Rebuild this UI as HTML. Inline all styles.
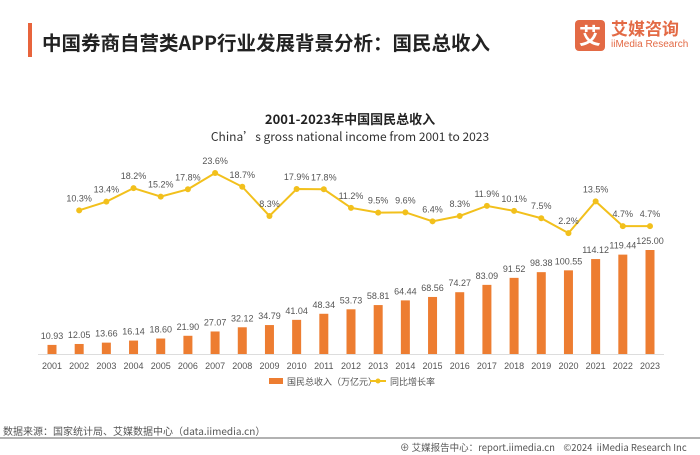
<!DOCTYPE html>
<html><head><meta charset="utf-8"><style>
body{margin:0;width:700px;height:455px;background:#fff;font-family:"Liberation Sans","Noto Sans CJK SC",sans-serif;overflow:hidden;position:relative}
.abs{position:absolute}
</style></head><body>
<div class="abs" style="left:28px;top:23px;width:4px;height:34px;background:#e8643c"></div>
<div class="abs" style="left:42px;top:27px;font-size:19.5px;color:#222;font-weight:bold;font-family:'Noto Sans CJK SC',sans-serif">中国券商自营类APP行业发展背景分析：国民总收入</div>
<div class="abs" style="left:575px;top:20px;width:30px;height:31px;background:#e36a45;border-radius:4px;color:#fff;font-size:22px;text-align:center;line-height:31px;font-family:'Noto Sans CJK SC',sans-serif;font-weight:bold">艾</div>
<div class="abs" style="left:611px;top:18px;font-size:17px;color:#e36a45;font-weight:bold;font-family:'Noto Sans CJK SC',sans-serif;line-height:20px">艾媒咨询</div>
<div class="abs" style="left:611px;top:39px;font-size:10px;color:#e36a45;line-height:12px">iiMedia Research</div>
<svg class="abs" style="left:0;top:0" width="700" height="455">
<text x="350" y="124" text-anchor="middle" font-size="13" font-weight="bold" fill="#222" font-family="Noto Sans CJK SC,sans-serif">2001-2023年中国国民总收入</text>
<text x="350" y="141" text-anchor="middle" font-size="12" fill="#333" font-family="Noto Sans CJK SC,sans-serif">China’s gross national income from 2001 to 2023</text>
<line x1="38" y1="354.5" x2="664" y2="354.5" stroke="#ddd"/>
<g id="bars"></g><g id="line"></g><g id="xt"></g>
<rect x="269" y="378" width="14" height="6" fill="#ed7d31"/>
<text x="287" y="385" font-size="9" fill="#555" font-family="Noto Sans CJK SC,sans-serif">国民总收入（万亿元）</text>
<line x1="370" y1="381" x2="386" y2="381" stroke="#f2c01c" stroke-width="2"/>
<circle cx="378" cy="381" r="2.5" fill="#f2c01c"/>
<text x="390" y="385" font-size="9" fill="#555" font-family="Noto Sans CJK SC,sans-serif">同比增长率</text>
<line x1="0" y1="438" x2="700" y2="438" stroke="#999" stroke-width="1.5"/>
</svg>
<div class="abs" style="left:3px;top:423px;font-size:10px;color:#555;font-family:'Noto Sans CJK SC',sans-serif">数据来源：国家统计局、艾媒数据中心（data.iimedia.cn）</div>
<div class="abs" style="left:400px;top:440px;font-size:9.5px;color:#555;font-family:'Noto Sans CJK SC',sans-serif;white-space:nowrap">⊕ 艾媒报告中心：report.iimedia.cn &nbsp;&nbsp;&nbsp;©2024 &nbsp;iiMedia Research Inc</div>
<script>
const years=["2001","2002","2003","2004","2005","2006","2007","2008","2009","2010","2011","2012","2013","2014","2015","2016","2017","2018","2019","2020","2021","2022","2023"];
const income=[10.93,12.05,13.66,16.14,18.60,21.90,27.07,32.12,34.79,41.04,48.34,53.73,58.81,64.44,68.56,74.27,83.09,91.52,98.38,100.55,114.12,119.44,125.00];
const growthYears=["2002","2003","2004","2005","2006","2007","2008","2009","2010","2011","2012","2013","2014","2015","2016","2017","2018","2019","2020","2021","2022","2023"];
const growth=[10.3,13.4,18.2,15.2,17.8,23.6,18.7,8.3,17.9,17.8,11.2,9.5,9.6,6.4,8.3,11.9,10.1,7.5,2.2,13.5,4.7,4.7];
const NS="http://www.w3.org/2000/svg";
const xOf=y=>52+years.indexOf(y)*(598/22);
const yBar=v=>354-v*0.832;
const yLine=v=>239.3-v*2.81;
function mk(tag,attrs,parent,txt){const e=document.createElementNS(NS,tag);for(const k in attrs)e.setAttribute(k,attrs[k]);if(txt!=null)e.textContent=txt;parent.appendChild(e);return e;}
const bars=document.getElementById('bars'),line=document.getElementById('line'),xt=document.getElementById('xt');
years.forEach((yr,i)=>{
 const x=xOf(yr),t=yBar(income[i]);
 const r=mk('rect',{x:x-4.5,y:t,width:9,height:354-t,fill:'#ed7d31'},bars);
 
 
 const l=mk('text',{x:x,y:t-6,'text-anchor':'middle','font-size':'9',fill:'#555'},bars,income[i].toFixed(2));
 
 
 const tk=mk('text',{x:x,y:369,'text-anchor':'middle','font-size':'9',fill:'#555'},xt,yr);
 
 
});
const pts=growth.map((v,i)=>[xOf(growthYears[i]),yLine(v)]);
const pl=mk('polyline',{points:pts.map(p=>p.join(',')).join(' '),fill:'none',stroke:'#f2c01c','stroke-width':'2'},line);


pts.forEach((p,i)=>{
 const c=mk('circle',{cx:p[0],cy:p[1],r:3,fill:'#f2c01c'},line);
 
 
 const t=mk('text',{x:p[0],y:p[1]-9,'text-anchor':'middle','font-size':'9',fill:'#555'},line,growth[i].toFixed(1)+'%');
 
 
});
</script>
</body></html>
